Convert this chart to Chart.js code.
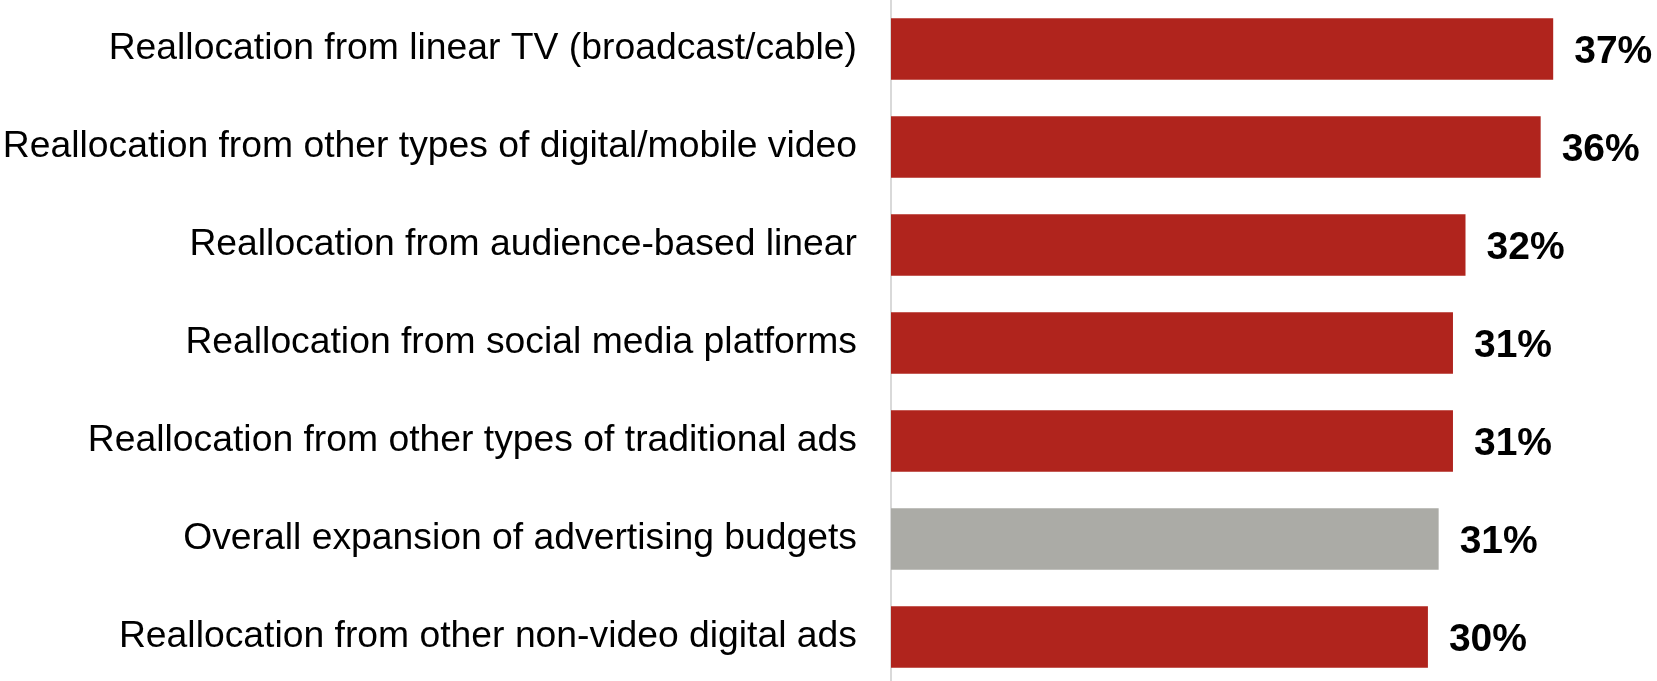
<!DOCTYPE html>
<html>
<head>
<meta charset="utf-8">
<script src="https://cdn.jsdelivr.net/npm/chart.js@4.4.1/dist/chart.umd.min.js"></script>
<style>
    html, body { margin: 0; padding: 0; background: #fff; overflow: hidden; }
    #wrap { width: 1657px; height: 686px; }
</style>
</head>
<body>
<div id="wrap"><canvas id="budgetChart"></canvas></div>
<script>
const categories = [
    'Reallocation from linear TV (broadcast/cable)',
    'Reallocation from other types of digital/mobile video',
    'Reallocation from audience-based linear',
    'Reallocation from social media platforms',
    'Reallocation from other types of traditional ads',
    'Overall expansion of advertising budgets',
    'Reallocation from other non-video digital ads'
];
// bar lengths, labels are the rounded values shown
const values = [37, 36.3, 32.1, 31.4, 31.4, 30.6, 30.0];
const valueLabels = ['37%', '36%', '32%', '31%', '31%', '31%', '30%'];
const barColors = ['#B0241D', '#B0241D', '#B0241D', '#B0241D', '#B0241D', '#ABABA6', '#B0241D'];

const fontFamily = '"Liberation Sans", Arial, Helvetica, sans-serif';

// draws the bold % labels at the end of each bar
const valueLabelPlugin = {
    id: 'valueLabels',
    afterDatasetsDraw(chart) {
        const ctx = chart.ctx;
        const meta = chart.getDatasetMeta(0);
        ctx.save();
        ctx.font = 'bold 39px ' + fontFamily;
        ctx.fillStyle = '#000';
        ctx.textAlign = 'left';
        ctx.textBaseline = 'middle';
        meta.data.forEach((bar, i) => {
            ctx.fillText(valueLabels[i], bar.x + 21, bar.y + 3);
        });
        ctx.restore();
    }
};

const ctx = document.getElementById('budgetChart').getContext('2d');
const chart = new Chart(ctx, {
    type: 'bar',
    data: {
        labels: categories,
        datasets: [{
            data: values,
            backgroundColor: barColors,
            borderWidth: 0,
            barPercentage: 0.63,
            categoryPercentage: 1.0
        }]
    },
    options: {
        indexAxis: 'y',
        responsive: true,
        maintainAspectRatio: false,
        animation: false,
        layout: { padding: 0 },
        plugins: {
            legend: { display: false },
            tooltip: { enabled: false }
        },
        scales: {
            x: {
                min: 0,
                max: 42.8,
                display: false
            },
            y: {
                offset: true,
                grid: { display: false, drawTicks: false },
                border: { display: true, color: '#D9D9D9', width: 2 },
                ticks: {
                    color: '#000',
                    padding: 34,
                    font: { family: fontFamily, size: 37.3 }
                },
                afterFit: function (scale) {
                    scale.width = 891;
                    scale.paddingTop = 0;
                    scale.paddingBottom = 0;
                }
            }
        }
    },
    plugins: [valueLabelPlugin]
});
</script>
</body>
</html>
